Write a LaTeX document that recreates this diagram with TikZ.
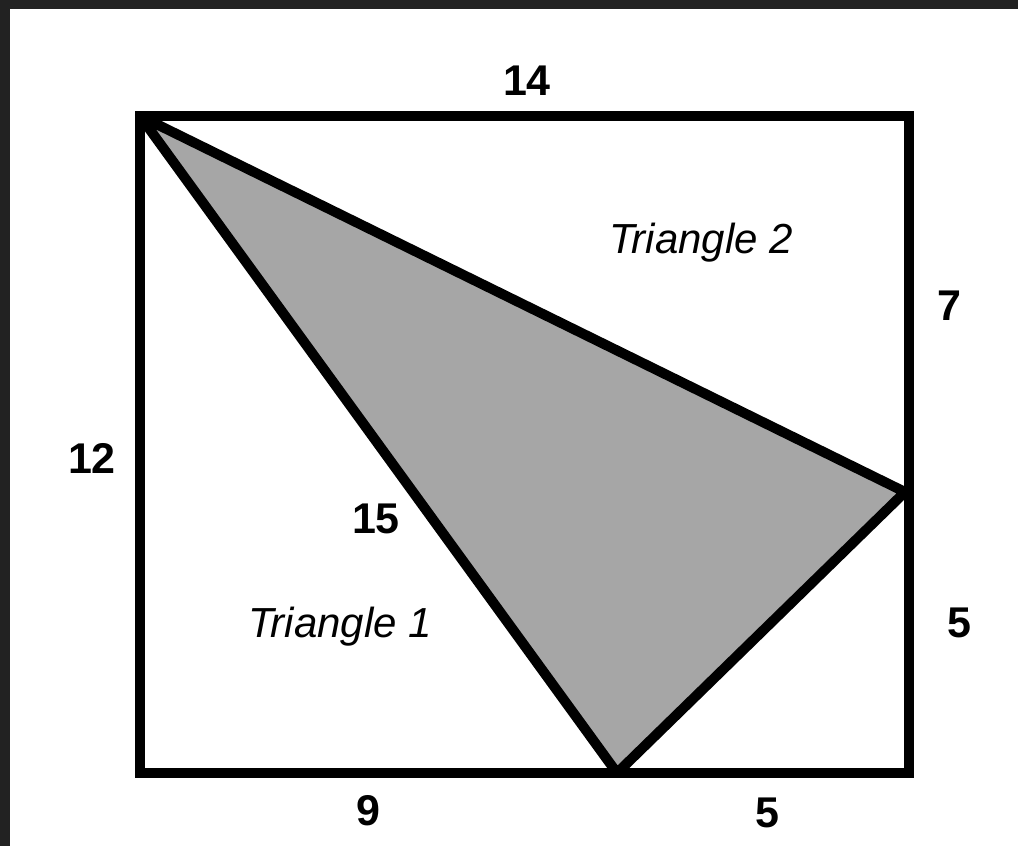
\documentclass[tikz,border=0pt]{standalone}
\usepackage{fontspec}
\setmainfont{Liberation Sans}
\usepackage{xcolor}
\definecolor{framegray}{HTML}{222222}
\definecolor{shadegray}{HTML}{A6A6A6}

\begin{document}
\begin{tikzpicture}[x=1pt, y=-1pt,
		edge/.style={line width=10pt, black},
		sidelabel/.style={anchor=base, inner sep=0pt, font=\fontsize{43}{50}\selectfont\bfseries},
		namelabel/.style={anchor=base, inner sep=0pt, font=\fontsize{42}{50}\selectfont\itshape}]
	% frame and page
	\useasboundingbox (0,0) rectangle (1018,846);
	\fill[framegray] (0,0) rectangle (1018,846);
	\fill[white] (10,9) rectangle (1018,846);

	% corners of the rectangle and vertices of the shaded triangle
	\coordinate (tl) at (140,116);
	\coordinate (tr) at (909,116);
	\coordinate (br) at (909,773);
	\coordinate (bl) at (140,773);
	\coordinate (right) at (905,492);
	\coordinate (bottom) at (617,773);

	\fill[shadegray] (tl) -- (right) -- (bottom) -- cycle;
	\draw[edge, line join=round] (tl) -- (right) -- (bottom) -- cycle;
	\draw[edge, line join=miter] (tl) -- (tr) -- (br) -- (bl) -- cycle;

	% side lengths
	\node[sidelabel] (top14) at (527,95) {14};
	\node[sidelabel] (left12) at (92,473) {12};
	\node[sidelabel] (right7) at (949,320) {7};
	\node[sidelabel] (right5) at (959,637) {5};
	\node[sidelabel] (bottom9) at (368,825) {9};
	\node[sidelabel] (bottom5) at (767,827) {5};
	\node[sidelabel] (diag15) at (376,533) {15};

	% triangle names
	\node[namelabel] (tri1) at (340,637) {Triangle 1};
	\node[namelabel] (tri2) at (701,253) {Triangle 2};
\end{tikzpicture}
\end{document}
